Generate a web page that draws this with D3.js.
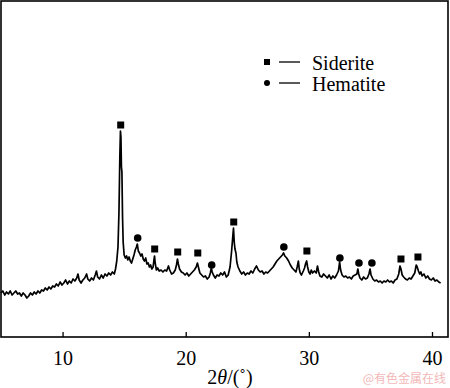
<!DOCTYPE html>
<html>
<head>
<meta charset="utf-8">
<script src="https://cdn.jsdelivr.net/npm/d3@7"></script>
<style>
  body { margin: 0; background: #fff; }
  svg { display: block; }
</style>
</head>
<body>
<div id="chart"></div>
<script>
// XRD pattern, 2theta in degrees and intensity (arbitrary units)
var twoTheta = [5.00,5.15,5.30,5.45,5.60,5.75,5.90,6.05,6.20,6.35,6.50,6.65,6.80,6.95,7.10,7.25,7.40,7.55,7.70,7.85,
  8.00,8.15,8.30,8.45,8.60,8.75,8.90,9.05,9.20,9.35,9.50,9.65,9.80,9.95,10.10,10.25,10.40,10.55,10.70,10.85,
  11.00,11.15,11.25,11.35,11.50,11.65,11.80,11.95,12.05,12.20,12.35,12.50,12.65,12.75,12.85,13.00,13.15,13.30,13.45,13.60,
  13.75,13.90,14.05,14.20,14.30,14.40,14.50,14.58,14.65,14.70,14.74,14.78,14.82,14.87,14.92,15.00,15.10,15.20,15.30,15.40,
  15.50,15.60,15.70,15.80,15.90,16.00,16.07,16.15,16.25,16.35,16.45,16.55,16.65,16.75,16.85,16.95,17.05,17.15,17.25,17.35,
  17.42,17.47,17.52,17.62,17.72,17.85,18.00,18.15,18.30,18.45,18.60,18.70,18.85,19.00,19.15,19.25,19.33,19.40,19.50,19.65,
  19.80,19.95,20.10,20.25,20.40,20.55,20.70,20.85,20.95,21.05,21.15,21.30,21.45,21.60,21.75,21.90,22.00,22.08,22.15,22.25,
  22.40,22.55,22.70,22.85,23.00,23.15,23.30,23.45,23.60,23.72,23.82,23.88,23.94,24.00,24.08,24.15,24.25,24.40,24.55,24.70,
  24.85,25.00,25.15,25.30,25.45,25.60,25.75,25.90,26.05,26.20,26.35,26.50,26.65,26.80,26.95,27.10,27.25,27.40,27.55,27.70,
  27.85,27.95,28.05,28.20,28.35,28.50,28.65,28.80,28.95,29.05,29.15,29.22,29.30,29.40,29.55,29.65,29.75,29.82,29.90,30.00,
  30.10,30.20,30.30,30.45,30.60,30.70,30.80,30.90,31.05,31.20,31.35,31.50,31.65,31.80,31.95,32.10,32.25,32.40,32.50,32.58,
  32.70,32.85,33.00,33.15,33.30,33.45,33.60,33.75,33.90,33.98,34.05,34.15,34.30,34.45,34.60,34.75,34.88,34.97,35.05,35.20,
  35.35,35.50,35.65,35.80,35.95,36.10,36.25,36.40,36.55,36.70,36.85,37.00,37.15,37.30,37.40,37.48,37.58,37.70,37.85,38.00,
  38.15,38.30,38.45,38.60,38.72,38.80,38.90,39.00,39.10,39.20,39.35,39.50,39.65,39.80,39.95,40.10,40.25,40.40,40.55,40.70];
var intensity = [44,46,42,45,43,46,42,44,46,43,44,41,44,42,39,41,44,42,45,43,
  46,44,47,46,49,47,50,48,51,50,53,51,55,52,54,57,53,56,54,58,
  56,59,63,57,54,57,59,63,58,56,59,57,62,66,60,58,62,59,63,61,
  64,62,65,63,68,76,90,125,180,206,200,170,165,120,95,82,79,81,77,80,
  76,74,78,82,87,90,93,86,84,81,83,78,76,79,73,74,70,72,68,70,
  77,81,74,67,69,66,67,65,67,66,71,67,63,64,67,72,78,73,68,65,
  64,62,64,61,63,65,67,70,74,69,64,62,60,61,58,60,64,69,65,62,
  59,62,61,64,62,65,60,62,70,85,100,109,95,88,84,75,70,66,63,65,
  62,64,63,66,64,68,71,67,65,66,63,65,64,66,68,70,73,76,78,80,
  82,84,81,79,76,72,69,67,65,70,76,68,64,62,66,69,74,76,70,65,
  63,67,64,66,64,71,65,61,60,63,61,59,62,58,61,59,62,66,75,67,
  62,60,61,59,60,58,61,62,63,68,63,59,57,60,58,59,63,68,62,58,
  56,57,55,56,54,56,55,57,55,56,54,57,58,63,71,68,62,60,58,57,
  59,58,61,64,72,70,66,63,65,61,63,59,61,58,57,59,56,57,55,54];

// phase markers
var sideriteAngles = [14.72, 17.48, 19.35, 20.98, 23.90, 29.84, 37.48, 38.86];
var sideriteLevels = [212, 88, 85, 84, 115, 86, 78, 80];
var hematiteAngles = [16.10, 22.11, 27.97, 32.52, 34.07, 35.12];
var hematiteLevels = [99, 72, 90, 79, 74, 74];

var xTicks = [10, 20, 30, 40];
var legendNames = ["Siderite", "Hematite"];

var serif = "'Liberation Serif', Tinos, 'DejaVu Serif', 'Noto Serif', serif";

var svgWidth = 450;
var svgHeight = 388;
var margin = {top: 1, right: 2, bottom: 51, left: 1};
var width = svgWidth - margin.left - margin.right;
var height = svgHeight - margin.top - margin.bottom;

var svg = d3.select("#chart").append("svg")
    .attr("width", svgWidth)
    .attr("height", svgHeight)
    .style("font-family", serif);
var chart = svg.append("g")
    .attr("transform", "translate(" + margin.left + "," + margin.top + ")");

var x = d3.scaleLinear().domain([5, 41.3]).range([0, width]);
var y = d3.scaleLinear().domain([0, 336]).range([height, 0]);

var points = twoTheta.map(function(t, i) { return [t, intensity[i]]; });

var line = d3.line()
    .x(function(d) { return x(d[0]); })
    .y(function(d) { return y(d[1]); });

chart.append("path")
    .datum(points)
    .attr("fill", "none")
    .attr("stroke", "#000")
    .attr("stroke-width", 1.7)
    .attr("stroke-linejoin", "round")
    .attr("d", line);

// markers
chart.selectAll("rect.sid")
    .data(sideriteAngles)
    .enter().append("rect")
    .attr("class", "sid")
    .attr("x", function(d) { return x(d) - 3.5; })
    .attr("y", function(d, i) { return y(sideriteLevels[i]) - 3.5; })
    .attr("width", 7)
    .attr("height", 7)
    .attr("fill", "#000");

chart.selectAll("circle.hem")
    .data(hematiteAngles)
    .enter().append("circle")
    .attr("class", "hem")
    .attr("cx", function(d) { return x(d); })
    .attr("cy", function(d, i) { return y(hematiteLevels[i]); })
    .attr("r", 3.8)
    .attr("fill", "#000");

// frame
chart.append("rect")
    .attr("x", 0).attr("y", 0)
    .attr("width", width).attr("height", height)
    .attr("fill", "none")
    .attr("stroke", "#000")
    .attr("stroke-width", 1.6);

var bottomAxis = d3.axisBottom(x)
    .tickValues(xTicks)
    .tickSizeInner(-5)
    .tickSizeOuter(0)
    .tickPadding(14);

var xAxis = chart.append("g")
    .attr("transform", "translate(0," + height + ")")
    .call(bottomAxis)
    .attr("font-family", serif)
    .attr("font-size", 20);
xAxis.select(".domain").remove();
xAxis.selectAll("line").attr("stroke", "#000").attr("stroke-width", 1.3);
xAxis.selectAll("text")
    .style("font-family", serif)
    .style("font-size", "20px")
    .attr("fill", "#000");

// axis title
var title = svg.append("text")
    .attr("x", 230)
    .attr("y", 384)
    .attr("text-anchor", "middle")
    .style("font-family", serif)
    .style("font-size", "20px");
title.append("tspan").text("2");
title.append("tspan").style("font-style", "italic").text("θ");
title.append("tspan").text("/(˚)");

// legend
var legend = svg.append("g").attr("transform", "translate(267,62)");
legendNames.forEach(function(name, i) {
    var row = legend.append("g").attr("transform", "translate(0," + (i * 21) + ")");
    if (i === 0) {
        row.append("rect").attr("x", -3).attr("y", -3).attr("width", 6).attr("height", 6).attr("fill", "#000");
    } else {
        row.append("circle").attr("r", 3).attr("fill", "#000");
    }
    row.append("line")
        .attr("x1", 12).attr("x2", 33)
        .attr("y1", 0).attr("y2", 0)
        .attr("stroke", "#000")
        .attr("stroke-width", 1.3);
    row.append("text")
        .attr("x", 45)
        .attr("y", 8)
        .style("font-family", serif)
        .style("font-size", "20px")
        .text(name);
});

// watermark
svg.append("text")
    .attr("x", 446)
    .attr("y", 383)
    .attr("text-anchor", "end")
    .style("font-family", "'Noto Sans CJK SC', sans-serif")
    .style("font-size", "12px")
    .style("fill", "#f2b8b8")
    .text("@有色金属在线");
</script>
</body>
</html>
